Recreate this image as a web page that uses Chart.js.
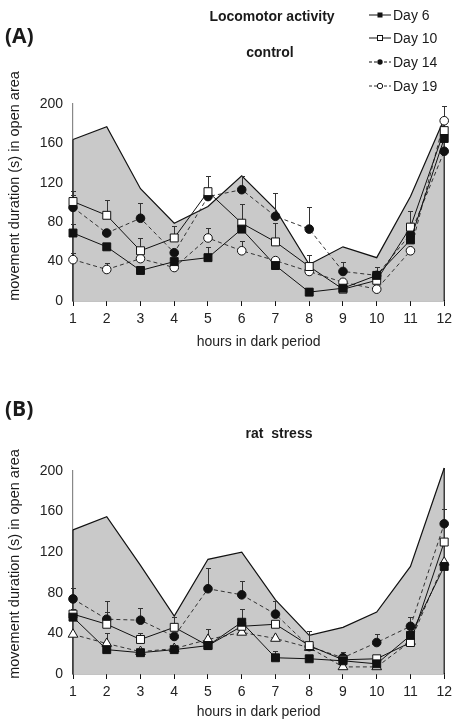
<!DOCTYPE html>
<html>
<head>
<meta charset="utf-8">
<script src="https://cdn.jsdelivr.net/npm/chart.js@4.4.1/dist/chart.umd.min.js"></script>
<style>
  body { margin: 0; background: #fff; width: 457px; height: 724px; overflow: hidden; position: relative;
         font-family: "Liberation Sans", Arial, sans-serif; color: #1a1a1a; }
  canvas { position: absolute; left: 0; }
  #chartA { top: 0; }
  #chartB { top: 360px; }
  .lbl { position: absolute; transform: translate(-50%, -50%); white-space: pre; font-weight: bold; font-size: 14px; }
  .panel { position: absolute; left: 5px; transform: translateY(-50%); font-family: "Open Sans", sans-serif;
           font-weight: bold; font-size: 21px; }
  .ytitle { position: absolute; white-space: nowrap; font-size: 14.5px; transform: translate(-50%, -50%) rotate(-90deg); }
  .leg { position: absolute; left: 369px; display: flex; align-items: center; font-size: 14px; transform: translateY(-50%); }
  .leg svg { margin-right: 2px; }
</style>
</head>
<body>
<canvas id="chartA" width="457" height="355"></canvas>
<canvas id="chartB" width="457" height="365"></canvas>

<div class="panel" style="top:35px">(A)</div>
<div class="lbl" style="left:272px; top:16px">Locomotor activity</div>
<div class="lbl" style="left:270px; top:52px">control</div>
<div class="ytitle" style="left:14px; top:186px">movement duration (s) in open area</div>

<div class="leg" style="top:15px"><svg width="22" height="10"><line x1="0" y1="5" x2="22" y2="5" stroke="#111"/><rect x="8.5" y="2.5" width="5" height="5" fill="#111"/></svg>Day 6</div>
<div class="leg" style="top:38px"><svg width="22" height="10"><line x1="0" y1="5" x2="22" y2="5" stroke="#111"/><rect x="8.5" y="2.5" width="5" height="5" fill="#fff" stroke="#111"/></svg>Day 10</div>
<div class="leg" style="top:62px"><svg width="22" height="10"><line x1="0" y1="5" x2="22" y2="5" stroke="#111" stroke-dasharray="3,2"/><circle cx="11" cy="5" r="2.7" fill="#111"/></svg>Day 14</div>
<div class="leg" style="top:86px"><svg width="22" height="10"><line x1="0" y1="5" x2="22" y2="5" stroke="#333" stroke-dasharray="3,2"/><circle cx="11" cy="5" r="2.7" fill="#fff" stroke="#111"/></svg>Day 19</div>

<div class="panel" style="top:408px">(B)</div>
<div class="lbl" style="left:279px; top:433px">rat  stress</div>
<div class="ytitle" style="left:14px; top:564px">movement duration (s) in open area</div>

<script>
const hours = ['1', '2', '3', '4', '5', '6', '7', '8', '9', '10', '11', '12'];
const yTicks = [0, 40, 80, 120, 160, 200];

// panel A - control
const areaA = [164, 177, 114, 79, 96, 127, 93, 37, 55, 44, 106, 185];
const day6A = [69, 55, 31, 40, 44, 73, 36, 9, 13, 26, 62, 165];
const day10A = [101, 87, 51, 64, 111, 79, 60, 35, 12, 21, 75, 173];
const day14A = [95, 69, 84, 49, 106, 113, 86, 73, 30, 26, 68, 152];
const day19A = [42, 32, 43, 34, 64, 51, 41, 30, 19, 12, 51, 183];
const err6A = [9, 0, 0, 0, 11, 0, 0, 4, 0, 3, 0, 0];
const err10A = [11, 16, 13, 12, 16, 19, 19, 12, 0, 0, 16, 0];
const err14A = [13, 0, 15, 0, 0, 14, 24, 22, 10, 9, 0, 0];
const err19A = [7, 7, 0, 0, 10, 10, 0, 0, 0, 0, 0, 15];

// panel B - rat stress
const areaB = [142, 155, 107, 57, 113, 120, 73, 38, 46, 61, 106, 203];
const day6B = [56, 24, 21, 24, 28, 51, 16, 15, 13, 10, 38, 106];
const day10B = [59, 49, 34, 46, 28, 47, 49, 28, 14, 15, 31, 130];
const day14B = [74, 54, 53, 37, 84, 78, 59, 27, 16, 31, 47, 148];
const day19B = [39, 30, 22, 25, 34, 41, 35, 26, 7, 7, 32, 110];
const err6B = [0, 0, 0, 0, 0, 13, 7, 0, 0, 0, 0, 0];
const err10B = [5, 12, 6, 10, 0, 0, 0, 14, 0, 0, 0, 0];
const err14B = [11, 18, 12, 0, 20, 14, 13, 0, 6, 8, 9, 15];
const err19B = [0, 10, 0, 0, 10, 0, 0, 0, 0, 0, 0, 0];

// draws the band edges and the upward error bars right after the shaded band
const errorBars = {
    id: 'errorBars',
    afterDatasetDraw(chart, args) {
        const ds = chart.data.datasets[args.index];
        if (!ds.area) return;
        const ctx = chart.ctx;
        const x = chart.scales.x;
        const y = chart.scales.y;
        ctx.save();
        ctx.strokeStyle = '#111';
        ctx.lineWidth = 1.2;
        [0, ds.data.length - 1].forEach(i => {
            const px = x.getPixelForValue(i);
            ctx.beginPath();
            ctx.moveTo(px, y.getPixelForValue(ds.data[i]));
            ctx.lineTo(px, y.getPixelForValue(0));
            ctx.stroke();
        });
        ctx.lineWidth = 1;
        ctx.strokeStyle = '#333';
        chart.data.datasets.forEach(d => {
            if (!d.err) return;
            d.err.forEach((e, i) => {
                if (!e) return;
                const px = Math.round(x.getPixelForValue(i)) + 0.5;
                const y0 = y.getPixelForValue(d.data[i]);
                const y1 = Math.round(y.getPixelForValue(d.data[i] + e)) + 0.5;
                ctx.beginPath();
                ctx.moveTo(px, y0);
                ctx.lineTo(px, y1);
                ctx.moveTo(px - 2.5, y1);
                ctx.lineTo(px + 2.5, y1);
                ctx.stroke();
            });
        });
        ctx.restore();
    }
};

function series(label, data, err, style, filled, dashed) {
    return {
        label: label,
        data: data,
        err: err,
        borderColor: dashed ? '#333' : '#111',
        borderWidth: 1,
        borderDash: dashed ? [4, 3] : [],
        pointStyle: style,
        pointRadius: style === 'circle' ? 4.3 : 5.6,
        pointBorderWidth: 1,
        pointBackgroundColor: filled ? '#111' : '#fff',
        pointBorderColor: '#111',
        tension: 0,
        fill: false,
        clip: false
    };
}

function makeChart(id, padTop, axisHeight, area, sets) {
    const ctx = document.getElementById(id).getContext('2d');
    return new Chart(ctx, {
        type: 'line',
        data: {
            labels: hours,
            datasets: [
                {
                    label: 'range',
                    data: area,
                    area: true,
                    order: 10,
                    fill: 'origin',
                    backgroundColor: '#c9c9c9',
                    borderColor: '#111',
                    borderWidth: 1.2,
                    pointRadius: 0,
                    tension: 0,
                    clip: false
                }
            ].concat(sets)
        },
        options: {
            responsive: false,
            animation: false,
            devicePixelRatio: 1,
            events: [],
            layout: { padding: { top: padTop, right: 12, left: 0, bottom: 0 } },
            plugins: { legend: { display: false }, tooltip: { enabled: false } },
            scales: {
                x: {
                    type: 'category',
                    offset: false,
                    afterFit: s => { s.height = axisHeight; },
                    grid: { drawOnChartArea: false, drawTicks: true, tickLength: 5, color: '#111' },
                    border: { color: '#111', width: 1.2 },
                    ticks: { autoSkip: false, maxRotation: 0, padding: 5, color: '#222',
                             font: { family: 'Liberation Sans', size: 14 } },
                    title: { display: true, text: 'hours in dark period', color: '#222',
                             padding: { top: 0, bottom: 4 }, font: { family: 'Liberation Sans', size: 14 } }
                },
                y: {
                    min: 0,
                    max: 200,
                    afterFit: s => { s.width = 73; },
                    afterBuildTicks: s => { s.ticks = yTicks.map(v => ({ value: v })); },
                    grid: { display: false, drawTicks: false },
                    border: { color: '#888', width: 1.2 },
                    ticks: { padding: 10, color: '#222', font: { family: 'Liberation Sans', size: 14 } }
                }
            }
        },
        plugins: [errorBars]
    });
}

makeChart('chartA', 104, 54, areaA, [
    series('Day 6', day6A, err6A, 'rect', true, false),
    series('Day 10', day10A, err10A, 'rect', false, false),
    series('Day 14', day14A, err14A, 'circle', true, true),
    series('Day 19', day19A, err19A, 'circle', false, true)
]);

makeChart('chartB', 111, 51, areaB, [
    series('Day 6', day6B, err6B, 'rect', true, false),
    series('Day 10', day10B, err10B, 'rect', false, false),
    series('Day 14', day14B, err14B, 'circle', true, true),
    series('Day 19', day19B, err19B, 'triangle', false, true)
]);
</script>
</body>
</html>
